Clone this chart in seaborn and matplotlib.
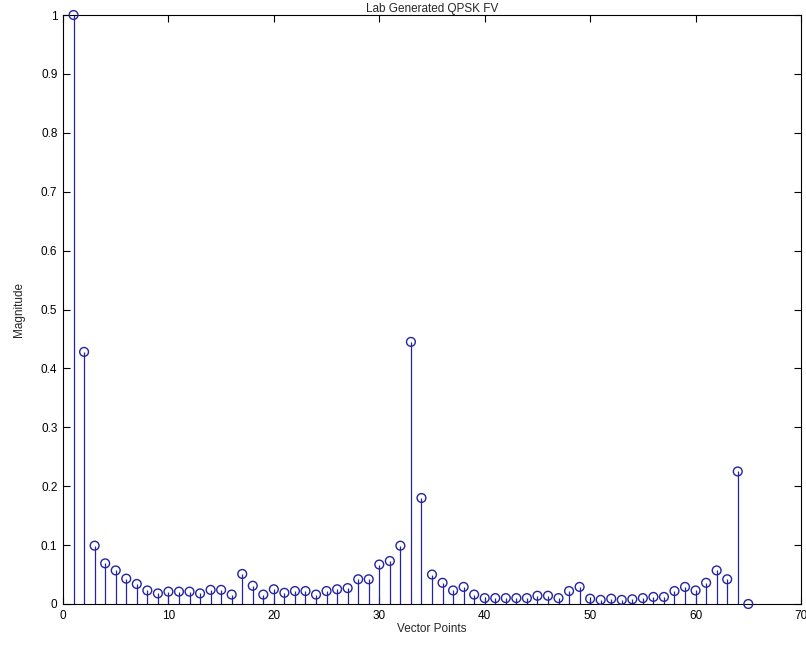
import matplotlib
matplotlib.use("Agg")
import matplotlib.pyplot as plt
import seaborn as sns
import numpy as np
import pandas as pd

# ---- data ----
vector_points = list(range(1, 66))
magnitude = [
    1.000, 0.428, 0.099, 0.069, 0.057, 0.043, 0.034, 0.023, 0.018, 0.021,
    0.021, 0.021, 0.018, 0.024, 0.024, 0.016, 0.051, 0.031, 0.016, 0.025,
    0.019, 0.022, 0.022, 0.016, 0.022, 0.025, 0.027, 0.042, 0.042, 0.067,
    0.073, 0.099, 0.445, 0.180, 0.050, 0.036, 0.023, 0.029, 0.016, 0.010,
    0.010, 0.010, 0.010, 0.010, 0.014, 0.014, 0.010, 0.022, 0.029, 0.009,
    0.007, 0.009, 0.007, 0.008, 0.010, 0.012, 0.012, 0.022, 0.029, 0.023,
    0.036, 0.057, 0.042, 0.225, 0.000,
]
x_ticks = [0, 10, 20, 30, 40, 50, 60, 70]
y_ticks = [0, 0.1, 0.2, 0.3, 0.4, 0.5, 0.6, 0.7, 0.8, 0.9, 1]
y_tick_labels = ["0", "0.1", "0.2", "0.3", "0.4", "0.5", "0.6", "0.7", "0.8", "0.9", "1"]
title = "Lab Generated QPSK FV"
x_label = "Vector Points"
y_label = "Magnitude"

df = pd.DataFrame({"x": vector_points, "y": magnitude})

sns.set_theme(style="white")
plt.rcParams["font.family"] = ["Liberation Sans", "DejaVu Sans"]

fig = plt.figure(figsize=(8.06, 6.46), dpi=100)
ax = fig.add_axes([63 / 806, 1 - 604 / 646, (801 - 63) / 806, (604 - 15) / 646])

stem_color = "#2424a0"
ax.vlines(df["x"], 0, df["y"], color=stem_color, linewidth=0.9, zorder=2)
sns.scatterplot(data=df, x="x", y="y", ax=ax, marker="o", s=40,
                facecolors="none", edgecolor=stem_color, linewidth=1.0,
                zorder=3, legend=False, clip_on=False)

ax.set_xlim(0, 70)
ax.set_ylim(0, 1)
ax.set_xticks(x_ticks)
ax.set_xticklabels([str(t) for t in x_ticks])
ax.set_yticks(y_ticks)
ax.set_yticklabels(y_tick_labels)

ax.tick_params(axis="both", which="both", direction="in", length=5, width=0.8,
               colors="black", labelsize=8.5, top=True, right=True,
               bottom=True, left=True, pad=4)
for sp in ax.spines.values():
    sp.set_visible(True)
    sp.set_color("black")
    sp.set_linewidth(0.8)

ax.set_title(title, fontsize=8.5, pad=2)
ax.set_xlabel(x_label, fontsize=8.5, labelpad=1)
ax.set_ylabel(y_label, fontsize=8.5)
ax.yaxis.set_label_coords(-38 / 738, 0.5)
ax.grid(False)

fig.savefig("out.png", dpi=100, facecolor="white")
